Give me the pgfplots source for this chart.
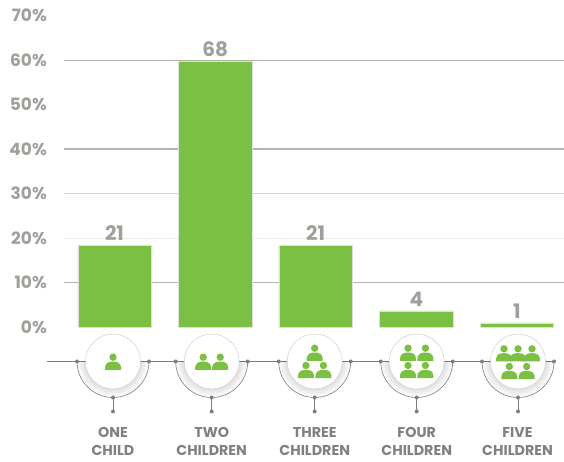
\documentclass[border=0pt]{standalone}
\usepackage{pgfplots}
\pgfplotsset{compat=1.18}
\usepackage{fontspec}
\setmainfont{Poppins}
\definecolor{barg}{RGB}{123,192,67}
\definecolor{txtg}{RGB}{160,160,155}
\definecolor{lblg}{RGB}{128,128,128}
\definecolor{lineg}{RGB}{125,125,125}
\newcommand{\person}[2]{%
  \fill[barg] (#1,#2) circle (3.7);
  \fill[barg] (#1-8,#2-12.7) -- (#1-8,#2-10) .. controls (#1-7.5,#2-5.5) and (#1-4,#2-4.3) .. (#1,#2-4.3) .. controls (#1+4,#2-4.3) and (#1+7.5,#2-5.5) .. (#1+8,#2-10) -- (#1+8,#2-12.7) -- cycle;
}
\newcommand{\badge}[1]{%
  \begin{scope}[shift={(#1,100.5)}]
    \foreach \r/\op in {36/0.02,34/0.025,32/0.03,30/0.035}{\fill[black,opacity=\op] (-\r,0) arc (180:360:\r) -- cycle;}
    \draw[lineg,line width=0.6pt] (-36,0) arc (180:360:36);
    \fill[white] (0,0) circle (27.5);
    \draw[gray!45,line width=0.4pt] (0,0) circle (27.5);
    \draw[lineg,line width=0.6pt] (0,-36) -- (0,-50);
    \foreach \p in {(-36,0),(36,0),(0,-36),(0,-50)}{\fill[lineg] \p circle (2);}
  \end{scope}
}
\begin{document}
\begin{tikzpicture}[x=1pt,y=1pt]
\useasboundingbox (0,0) rectangle (564,462);
% connecting line
\draw[lineg,line width=0.6pt] (47,100.5) -- (554,100.5);
\badge{113}\badge{211.7}\badge{314.7}\badge{416.7}\badge{518}
\begin{scope}[shift={(113,100.5)}]\person{0}{4.3}\end{scope}
\begin{scope}[shift={(211.7,100.5)}]\person{-8.5}{4.3}\person{8.5}{4.3}\end{scope}
\begin{scope}[shift={(314.7,100.5)}]\person{0}{13.3}\person{-8.7}{-4}\person{8.7}{-4}\end{scope}
\begin{scope}[shift={(416.7,100.5)}]\person{-8.7}{13.3}\person{8.7}{13.3}\person{-8.7}{-4}\person{8.7}{-4}\end{scope}
\begin{scope}[shift={(518,100.5)}]\person{-14}{12.7}\person{0}{12.7}\person{14}{12.7}\person{-8.7}{-5}\person{8.7}{-5}\end{scope}
\begin{axis}[
  at={(64pt,135pt)},anchor=south west,
  scale only axis,width=500pt,height=311.5pt,
  xmin=-0.502,xmax=4.468,ymin=0,ymax=70,
  axis line style={draw=none},
  ytick={0,10,...,70},
  yticklabel={\pgfmathprintnumber{\tick}\%},
  /pgf/number format/assume math mode=true,
  yticklabel style={font=\fontsize{17}{17}\selectfont\bfseries,text=txtg,inner sep=0pt,xshift=-17pt},
  xtick={-0.015,0.966,1.99,3.004,4.006},
  xticklabels={{ONE\\CHILD},{TWO\\CHILDREN},{THREE\\CHILDREN},{FOUR\\CHILDREN},{FIVE\\CHILDREN}},
  xticklabel style={font=\fontsize{14.3}{18}\selectfont\bfseries,text=lblg,align=center,yshift=-100pt,inner sep=0pt},
  major tick length=0pt,
  clip=false,
]
\addplot[gray!60,line width=0.8pt,forget plot] coordinates {(-0.502,60)(4.468,60)};
\addplot[gray!60,line width=1.2pt,forget plot] coordinates {(-0.502,40)(4.468,40)};
\addplot[gray!35,line width=1pt,forget plot] coordinates {(-0.502,30)(4.468,30)};
\addplot[gray!15,line width=0.6pt,forget plot] coordinates {(-0.502,20)(4.468,20)};
\addplot[gray!60,line width=0.8pt,forget plot] coordinates {(-0.502,10)(4.468,10)};
\addplot[ybar,bar width=73.5pt,fill=barg,draw=gray!25,line width=0.4pt,
  point meta=explicit symbolic,
  nodes near coords,
  every node near coord/.append style={font=\fontsize{20}{20}\selectfont\bfseries,text=txtg,inner sep=1.5pt,anchor=south,yshift=2.5pt}]
  coordinates {(0,18.4)[21] (1,59.8)[68] (2,18.4)[21] (3,3.6)[4] (4,0.9)[1]};
\end{axis}
\end{tikzpicture}
\end{document}
